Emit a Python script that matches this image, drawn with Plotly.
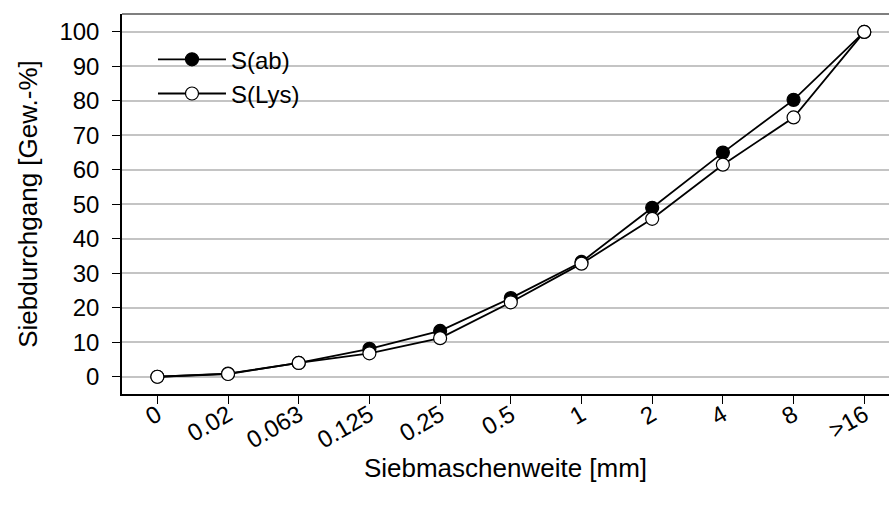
import plotly.graph_objects as go

categories = ["0", "0.02", "0.063", "0.125", "0.25", "0.5", "1", "2", "4", "8", ">16"]
s_ab = [0, 0.9, 4.0, 8.1, 13.3, 22.8, 33.3, 49.0, 65.0, 80.3, 100]
s_lys = [0, 0.8, 4.0, 6.8, 11.2, 21.6, 32.8, 45.8, 61.5, 75.2, 100]
y_ticks = [0, 10, 20, 30, 40, 50, 60, 70, 80, 90, 100]

FONT = "Liberation Sans, Arial, Helvetica, sans-serif"
xidx = list(range(len(categories)))

fig = go.Figure()
fig.add_trace(go.Scatter(
    x=xidx, y=s_ab, name="S(ab)", mode="lines+markers",
    line=dict(color="black", width=1.8),
    marker=dict(symbol="circle", size=13, color="black", line=dict(color="black", width=1.2)),
))
fig.add_trace(go.Scatter(
    x=xidx, y=s_lys, name="S(Lys)", mode="lines+markers",
    line=dict(color="black", width=1.8),
    marker=dict(symbol="circle", size=13, color="white", line=dict(color="black", width=1.2)),
))

fig.update_layout(
    width=890, height=505,
    margin=dict(l=122, r=1, t=14, b=111),
    paper_bgcolor="white", plot_bgcolor="white",
    font=dict(family=FONT, size=25, color="black"),
    showlegend=True,
    legend=dict(
        x=0.0404, y=0.939, xanchor="left", yanchor="top",
        bgcolor="rgba(0,0,0,0)", font=dict(size=24),
        tracegroupgap=0, itemwidth=68,
    ),
    xaxis=dict(
        range=[-0.5, 10.35],
        tickmode="array", tickvals=xidx, ticktext=categories,
        tickangle=-30, ticks="outside", ticklen=8, tickcolor="black", tickwidth=1,
        ticklabelstandoff=-12,
        showgrid=False, zeroline=False,
        showline=True, linecolor="black", linewidth=1.5,
        tickfont=dict(size=24),
        title=dict(text="Siebmaschenweite [mm]", font=dict(size=26), standoff=6),
    ),
    yaxis=dict(
        range=[-5, 105.2],
        tickmode="array", tickvals=y_ticks,
        ticks="outside", ticklen=8, tickcolor="black", tickwidth=1,
        ticklabelstandoff=8,
        showgrid=True, gridcolor="#c4c4c4", gridwidth=1.5,
        zeroline=False,
        showline=True, linecolor="black", linewidth=1.5,
        tickfont=dict(size=24),
        title=dict(text="Siebdurchgang [Gew.-%]", font=dict(size=26), standoff=14),
    ),
)

fig.add_shape(type="line", xref="paper", yref="paper", x0=0, x1=1, y0=1, y1=1,
              line=dict(color="#555555", width=1.5), layer="above")

fig.write_html("out.html")
